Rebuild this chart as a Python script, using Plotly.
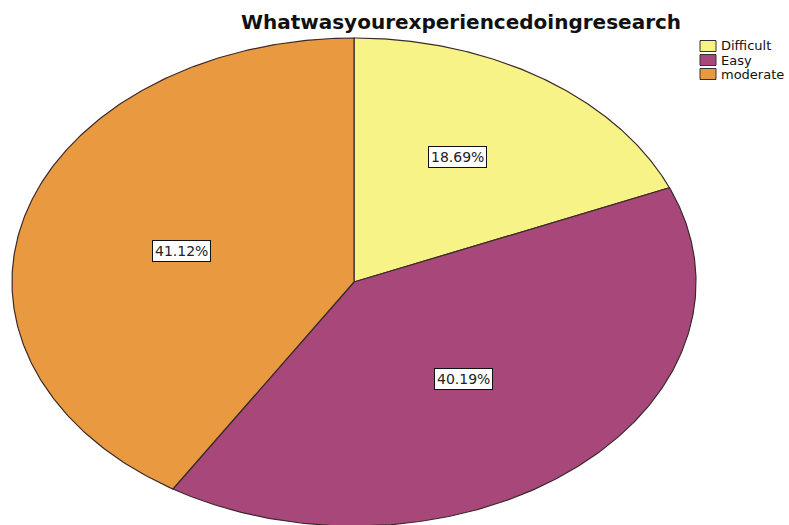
import numpy as np
import plotly.graph_objects as go

# Survey responses: share of each answer (percent)
categories = ["Difficult", "Easy", "moderate"]
percents = [18.69, 40.19, 41.12]
colors = ["#F7F386", "#A8477A", "#E99A40"]
title_text = "Whatwasyourexperiencedoingresearch"

# Geometry of the pie in pixels (drawn as a unit circle, axes stretch it)
W, H = 789, 525
CX, CY = 354, 282      # pie centre
RX, RY = 342, 244      # horizontal / vertical radii
LABEL_R = [0.596, 0.51, 0.52]
LABEL_SHIFT_DEG = [-3.0, 1.5, -2.0]
EDGE = "#3a2a2a"

fig = go.Figure()

start = 0.0
total = sum(percents)
for i, (cat, pct, col) in enumerate(zip(categories, percents, colors)):
    span = pct / total * 2 * np.pi
    theta = np.linspace(start, start + span, 240)
    # clockwise from 12 o'clock
    xs = np.concatenate([[0], np.sin(theta), [0]])
    ys = np.concatenate([[0], np.cos(theta), [0]])
    fig.add_trace(go.Scatter(
        x=xs, y=ys, mode="lines", fill="toself", fillcolor=col,
        line=dict(color=EDGE, width=1.2), showlegend=False, hoverinfo="skip",
    ))
    mid = start + span / 2 + np.radians(LABEL_SHIFT_DEG[i])
    fig.add_annotation(
        x=LABEL_R[i] * np.sin(mid), y=LABEL_R[i] * np.cos(mid),
        text=f"{pct:.2f}%", showarrow=False,
        font=dict(family="DejaVu Sans", size=14, color="#222"),
        bgcolor="white", bordercolor="#111", borderwidth=1, borderpad=2,
    )
    start += span

# Legend: swatch + label rows at the top right
LEG_X0, LEG_X1, LEG_TEXT_X = 700, 716, 719
LEG_Y0, LEG_DY, LEG_SW_H = 46, 14, 11
for i, (cat, col) in enumerate(zip(categories, colors)):
    yc = LEG_Y0 + i * LEG_DY
    fig.add_shape(
        type="rect", xref="paper", yref="paper",
        x0=LEG_X0 / W, x1=LEG_X1 / W,
        y0=1 - (yc + LEG_SW_H / 2) / H, y1=1 - (yc - LEG_SW_H / 2) / H,
        fillcolor=col, line=dict(color="#333", width=1),
    )
    fig.add_annotation(
        xref="paper", yref="paper", x=LEG_TEXT_X / W, y=1 - yc / H,
        xanchor="left", yanchor="middle", text=cat, showarrow=False,
        font=dict(family="DejaVu Sans", size=13, color="#111"),
    )

fig.update_layout(
    width=W, height=H,
    margin=dict(l=0, r=0, t=0, b=0),
    paper_bgcolor="white", plot_bgcolor="white",
    title=dict(
        text=f"<b>{title_text}</b>",
        x=461 / W, y=1 - 22 / H, xanchor="center", yanchor="middle",
        font=dict(family="DejaVu Sans", size=20, color="#111"),
    ),
    xaxis=dict(range=[(0 - CX) / RX, (W - CX) / RX], visible=False,
               fixedrange=True),
    yaxis=dict(range=[(CY - H) / RY, CY / RY], visible=False,
               fixedrange=True),
    showlegend=False,
)

fig.write_html("out.html")
